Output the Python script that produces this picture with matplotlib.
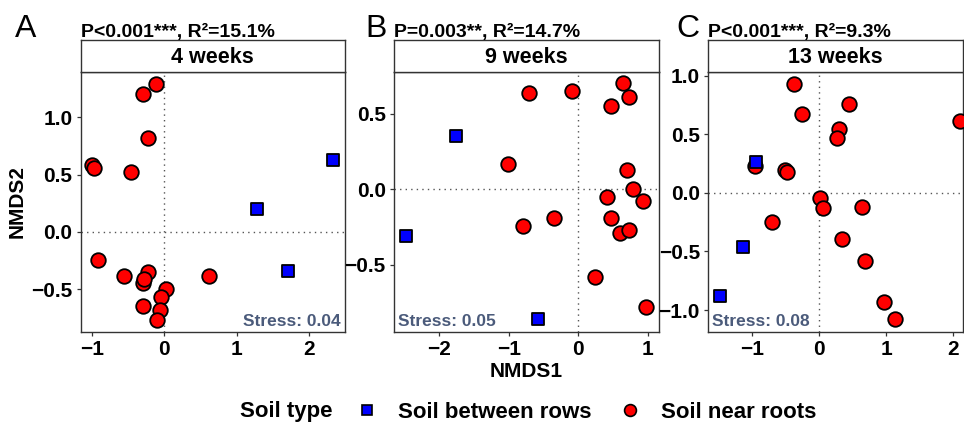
import matplotlib
matplotlib.use('Agg')
import matplotlib.pyplot as plt
from matplotlib.lines import Line2D

plt.rcParams['font.family'] = ['Liberation Sans', 'DejaVu Sans']

# NMDS scores per sampling time
weeks = ['4 weeks', '9 weeks', '13 weeks']
stats = ['P<0.001***, R²=15.1%', 'P=0.003**, R²=14.7%', 'P<0.001***, R²=9.3%']
stress = ['Stress: 0.04', 'Stress: 0.05', 'Stress: 0.08']

rows_x_4 = [1.28, 1.70, 2.32]
rows_y_4 = [0.20, -0.34, 0.63]
roots_x_4 = [-0.12, -0.29, -0.23, -0.99, -0.97, -0.46, -0.92, -0.56, -0.23,
             -0.30, -0.28, -0.30, 0.03, -0.05, -0.06, -0.10, 0.61]
roots_y_4 = [1.29, 1.20, 0.82, 0.58, 0.56, 0.52, -0.25, -0.39, -0.35,
             -0.45, -0.41, -0.65, -0.50, -0.57, -0.68, -0.77, -0.39]

rows_x_9 = [-1.76, -2.48, -0.58]
rows_y_9 = [0.35, -0.31, -0.86]
roots_x_9 = [-0.71, -0.09, 0.64, 0.73, 0.48, -1.01, 0.70, 0.79, 0.41,
             0.94, -0.79, -0.34, 0.47, 0.61, 0.73, 0.25, 0.98]
roots_y_9 = [0.64, 0.65, 0.70, 0.61, 0.55, 0.17, 0.13, 0.00, -0.05,
             -0.08, -0.24, -0.19, -0.19, -0.29, -0.27, -0.58, -0.78]

rows_x_13 = [-0.94, -1.14, -1.48]
rows_y_13 = [0.26, -0.46, -0.88]
roots_x_13 = [-0.38, -0.26, 0.44, 0.29, 0.26, 2.10, -0.96, -0.52, -0.49,
              0.01, 0.06, 0.64, -0.70, 0.34, 0.69, 0.97, 1.14]
roots_y_13 = [0.93, 0.67, 0.76, 0.55, 0.47, 0.61, 0.23, 0.20, 0.18,
              -0.04, -0.13, -0.12, -0.25, -0.39, -0.58, -0.93, -1.08]

panels = [
    (rows_x_4, rows_y_4, roots_x_4, roots_y_4),
    (rows_x_9, rows_y_9, roots_x_9, roots_y_9),
    (rows_x_13, rows_y_13, roots_x_13, roots_y_13),
]

xlims = [(-1.152, 2.49), (-2.65, 1.16), (-1.66, 2.15)]
ylims = [(-0.873, 1.393), (-0.941, 0.774), (-1.185, 1.03)]
xticks = [[-1, 0, 1, 2], [-2, -1, 0, 1], [-1, 0, 1, 2]]
yticks = [[-0.5, 0.0, 0.5, 1.0], [-0.5, 0.0, 0.5], [-1.0, -0.5, 0.0, 0.5, 1.0]]
lefts = [80.7, 394, 708.3]
rights = [345, 658.7, 963]
letters = ['A', 'B', 'C']
letter_x = [15, 365, 676]

W, H = 964, 426
fig = plt.figure(figsize=(9.64, 4.26), dpi=100)

ax_bottom = 1 - 331.7 / H
ax_top = 1 - 72.3 / H
strip_top = 1 - 40 / H
stress_col = '#4b5b7b'

for i in range(3):
    l = lefts[i] / W
    w = (rights[i] - lefts[i]) / W
    ax = fig.add_axes([l, ax_bottom, w, ax_top - ax_bottom])
    rx, ry, nx, ny = panels[i]
    ax.axhline(0, color='#555555', ls=(0, (1, 3)), lw=1, zorder=1)
    ax.axvline(0, color='#555555', ls=(0, (1, 3)), lw=1, zorder=1)
    ax.scatter(nx, ny, s=110, marker='o', color='#ff0000', edgecolor='black',
               linewidth=1.3, zorder=3)
    ax.scatter(rx, ry, s=85, marker='s', color='#0000ff', edgecolor='black',
               linewidth=1.3, zorder=3)
    ax.set_xlim(xlims[i])
    ax.set_ylim(ylims[i])
    ax.set_xticks(xticks[i])
    ax.set_yticks(yticks[i])
    ax.set_xticklabels([f'{v:g}'.replace('-', '\u2212') for v in xticks[i]])
    ax.set_yticklabels([f'{v:.1f}'.replace('-', '\u2212') for v in yticks[i]])
    ax.tick_params(length=3, width=0.9, color='#333333', labelsize=15,
                   pad=3, labelcolor='black')
    for lab in ax.get_xticklabels() + ax.get_yticklabels():
        lab.set_fontweight('bold')
    for sp in ax.spines.values():
        sp.set_color('#333333')
        sp.set_linewidth(1.0)
    if i == 0:
        ax.text(0.985, 0.012, stress[i], transform=ax.transAxes, ha='right',
                va='bottom', fontsize=12.5, fontweight='bold', color=stress_col)
        ax.set_ylabel('NMDS2', fontsize=15, fontweight='bold', labelpad=3)
    else:
        ax.text(0.015, 0.012, stress[i], transform=ax.transAxes, ha='left',
                va='bottom', fontsize=12.5, fontweight='bold', color=stress_col)
    if i == 1:
        ax.set_xlabel('NMDS1', fontsize=15, fontweight='bold', labelpad=2)

    # facet strip
    sax = fig.add_axes([l, ax_top, w, strip_top - ax_top])
    sax.set_xticks([])
    sax.set_yticks([])
    for sp in sax.spines.values():
        sp.set_color('#333333')
        sp.set_linewidth(1.0)
    sax.text(0.5, 0.45, weeks[i], ha='center', va='center', fontsize=15.5,
             fontweight='bold', transform=sax.transAxes)

    fig.text(l, 1 - 36.7 / H, stats[i], ha='left', va='baseline',
             fontsize=14, fontweight='bold')
    fig.text(letter_x[i] / W, 1 - 36.7 / H, letters[i], ha='left',
             va='baseline', fontsize=23)

# legend
fig.text(333 / W, 1 - 412 / H, 'Soil type', ha='right', va='center',
         fontsize=16, fontweight='bold')
handles = [
    Line2D([], [], marker='s', ls='none', markersize=7.5, markerfacecolor='#0000ff',
           markeredgecolor='black', markeredgewidth=1.2),
    Line2D([], [], marker='o', ls='none', markersize=8.5, markerfacecolor='#ff0000',
           markeredgecolor='black', markeredgewidth=1.2),
]
fig.legend(handles, ['Soil between rows', 'Soil near roots'], ncol=2,
           loc='center left', bbox_to_anchor=(356 / W, 1 - 412 / H),
           frameon=False, borderpad=0, borderaxespad=0, handlelength=1,
           handletextpad=0.9, columnspacing=1.2,
           prop={'size': 16, 'weight': 'bold'})

fig.savefig('out.png', dpi=100)
